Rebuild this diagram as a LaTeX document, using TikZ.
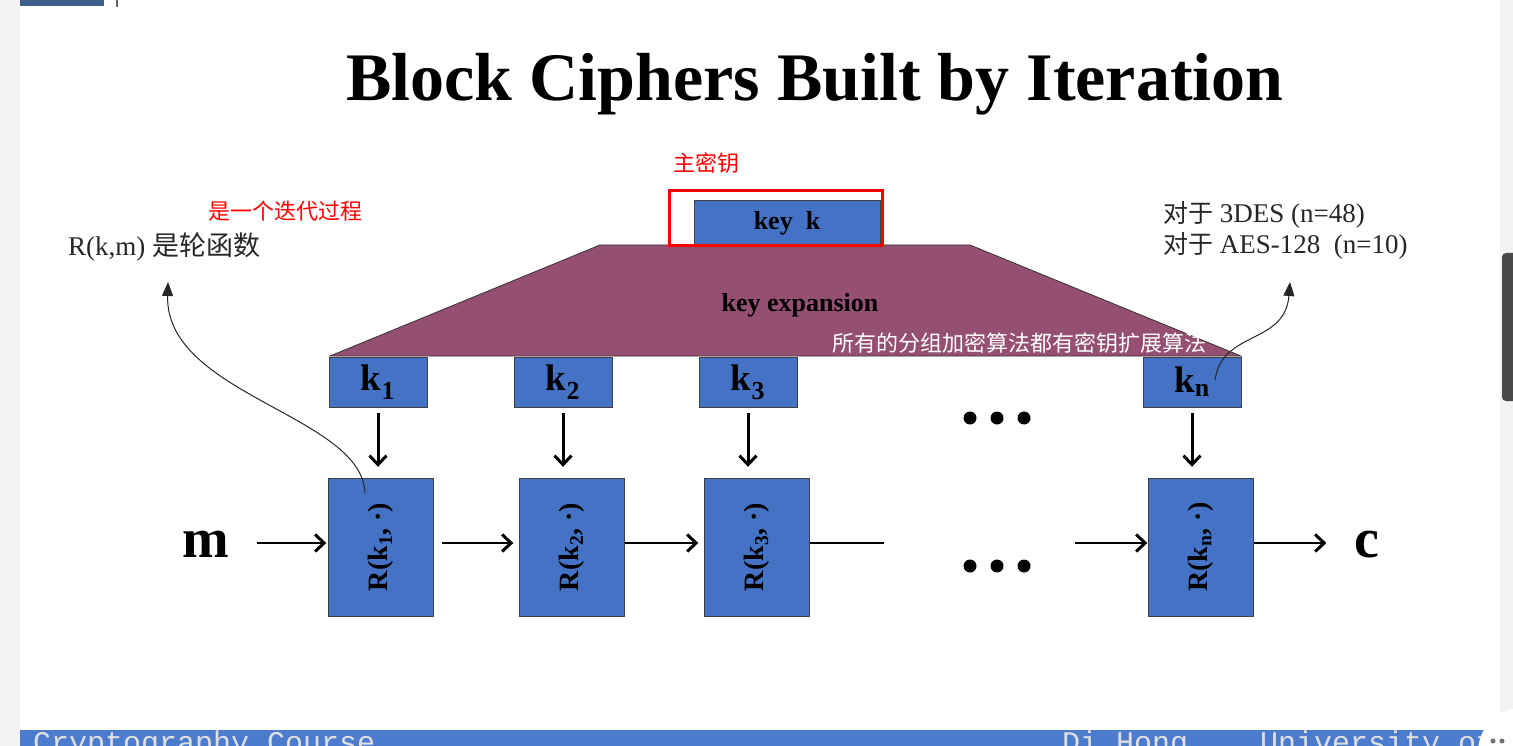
\documentclass[tikz,border=0pt]{standalone}
\usepackage{fontspec}
\setmainfont{Liberation Serif}
\newfontfamily\cjk{Noto Sans CJK SC}
\newfontfamily\footfont{Liberation Mono}
\usetikzlibrary{arrows.meta,positioning,calc}

\definecolor{boxblue}{RGB}{68,114,196}
\definecolor{expmauve}{RGB}{149,79,114}
\definecolor{barblue}{RGB}{76,124,206}
\definecolor{hdrblue}{RGB}{58,95,138}
\definecolor{edgegray}{RGB}{243,243,243}
\definecolor{scrollgray}{RGB}{74,74,74}

\newcommand{\fsz}[1]{\fontsize{#1}{#1}\selectfont}
\newcommand{\ksub}[1]{k\textsubscript{#1}}

\tikzset{
	slidetitle/.style={font={\fsz{68}\bfseries}, inner sep=0pt},
	redlabel/.style={font={\cjk\fsz{22}}, text=red, inner sep=0pt},
	notelabel/.style={font={\fsz{27}}, text=black!85, inner sep=0pt},
	masterbox/.style={draw=black!75, fill=boxblue, minimum width=186pt, minimum height=46pt, inner sep=0pt, font={\fsz{26}\bfseries}},
	redframe/.style={draw=red, line width=3pt, minimum width=213pt, minimum height=55pt, inner sep=0pt},
	expshape/.style={fill=expmauve, draw=black!80, line width=0.8pt},
	keybox/.style={draw=black!75, fill=boxblue, minimum width=98pt, minimum height=50pt, inner sep=0pt, font={\fsz{37}\bfseries}},
	roundbox/.style={draw=black!75, fill=boxblue, minimum width=105pt, minimum height=138pt, inner sep=0pt, font={\fsz{28}\bfseries}},
	flow/.style={line width=2.5pt, -{Straight Barb[length=9pt,width=17pt,line width=3pt]}},
	feed/.style={line width=3pt, -{Straight Barb[length=9pt,width=17pt,line width=3pt]}, shorten <=6pt, shorten >=11pt},
	callout/.style={line width=1pt, black!85, -{Triangle[length=14pt,width=11pt]}},
	bigsym/.style={font={\fsz{56}\bfseries}, inner sep=0pt},
	footer/.style={font={\footfont\fsz{30}}, text=white!88!black, inner sep=0pt}
}

\begin{document}
\begin{tikzpicture}[x=1pt,y=-1pt]
	\useasboundingbox (0,0) rectangle (1513,746);

	\fill[edgegray] (0,0) rectangle (20,746);
	\fill[edgegray] (1500,0) rectangle (1513,746);
	\fill[scrollgray, rounded corners=4pt] (1502,253) rectangle (1518,401);
	\fill[hdrblue] (20,0) rectangle (104,6);
	\draw[black!60, line width=2pt] (117,0) -- (117,7);

	\fill[barblue] (20,730) rectangle (1500,746);
	\begin{scope}
		\clip (20,730) rectangle (1500,746);
		\node[footer, anchor=base west] (course) at (33,752) {Cryptography Course};
		\node[footer, anchor=base west] (author) at (1062,752) {Di Hong,~~~University of};
	\end{scope}
	\fill[white] (1522,752) circle (44pt);
	\fill[black!55] (1493,741) circle (2.5pt) (1502,741) circle (2.5pt);

	\node[slidetitle, anchor=base] (title) at (815,101) {Block Ciphers Built by Iteration};

	\node[redlabel] (mklabel) at (706,163) {主密钥};
	\node[redlabel] (iter) at (285,211) {是一个迭代过程};
	\node[notelabel, anchor=base west] (rdef) at (68,255) {R(k,m) {\cjk\fsz{27}是轮函数}};
	\node[notelabel, anchor=base west] (des) at (1163,223) {{\cjk\fsz{25}对于} 3DES (n=48)};
	\node[notelabel, anchor=base west] (aes) at (1163,254) {{\cjk\fsz{25}对于} AES-128~ (n=10)};

	\coordinate (tl) at (600,245);
	\coordinate (tr) at (970,245);
	\coordinate (br) at (1241,356);
	\coordinate (bl) at (330,356);
	\draw[expshape] (bl) -- (tl) -- (tr) -- (br) -- cycle;
	\node[font={\fsz{26}\bfseries}, inner sep=0pt] (exp) at (800,305) {key expansion};
	\node[font={\cjk\fsz{22}}, text=white, inner sep=0pt] (allnote) at (1019,343) {所有的分组加密算法都有密钥扩展算法};

	\node[masterbox] (key) at (787,223) {key\ \ k};
	\node[redframe] (frame) at (776,218) {};

	\node[keybox] (k1) at (378,382) {\ksub{1}};
	\node[keybox] (k2) at (563,382) {\ksub{2}};
	\node[keybox] (k3) at (748,382) {\ksub{3}};
	\node[keybox] (kn) at (1192,382) {\ksub{n}};

	\node[roundbox] (r1) at (381,547) {\rotatebox{90}{R(\ksub{1}, ·)}};
	\node[roundbox] (r2) at (572,547) {\rotatebox{90}{R(\ksub{2}, ·)}};
	\node[roundbox] (r3) at (757,547) {\rotatebox{90}{R(\ksub{3}, ·)}};
	\node[roundbox] (rn) at (1201,547) {\rotatebox{90}{R(\ksub{n}, ·)}};

	\draw[feed] (k1.south) -- (k1.south |- r1.north);
	\draw[feed] (k2.south) -- (k2.south |- r2.north);
	\draw[feed] (k3.south) -- (k3.south |- r3.north);
	\draw[feed] (kn.south) -- (kn.south |- rn.north);

	\node[bigsym, anchor=base] (m) at (206,557) {m};
	\node[bigsym, anchor=base] (c) at (1367,557) {c};
	\coordinate (gapa) at (884,543);
	\coordinate (gapb) at (1075,543);

	\draw[flow, shorten <=27pt, shorten >=2pt] ([yshift=4pt]r1.west -| m.east) -- ([yshift=4pt]r1.west);
	\draw[flow, shorten <=8pt, shorten >=6pt] ([yshift=4pt]r1.east) -- ([yshift=4pt]r2.west);
	\draw[flow, shorten >=6pt] ([yshift=4pt]r2.east) -- ([yshift=4pt]r3.west);
	\draw[line width=2.5pt] ([yshift=4pt]r3.east) -- (gapa);
	\draw[flow, shorten >=1pt] (gapb) -- ([yshift=4pt]rn.west);
	\draw[flow, shorten >=28pt] ([yshift=4pt]rn.east) -- ([yshift=4pt]rn.east -| c.west);

	\foreach \dx in {970,997,1024} {
		\fill (\dx,418) circle (6.5pt);
		\fill (\dx,566) circle (6.5pt);
	}

	\coordinate (rin) at (365,493);
	\coordinate (rtip) at (168,282);
	\draw[callout] (rin) .. controls (362,415) and (165,395) .. (rtip);
	\coordinate (kin) at (1215,380);
	\coordinate (ktip) at (1290,282);
	\draw[callout] (kin) .. controls (1222,330) and (1285,345) .. (ktip);
\end{tikzpicture}
\end{document}
